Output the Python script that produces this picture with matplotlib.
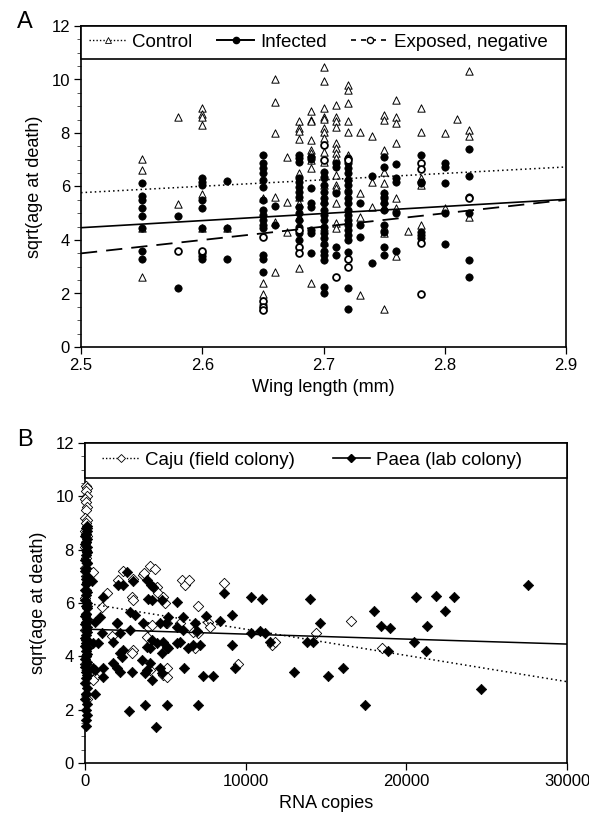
import matplotlib
matplotlib.use("Agg")
import matplotlib.pyplot as plt
from matplotlib.lines import Line2D
from matplotlib.patches import Rectangle
from matplotlib.ticker import MultipleLocator

plt.rcParams['font.family'] = ['Liberation Sans', 'DejaVu Sans']

# ---------------- Panel A data ----------------
control = {
    2.55: [7.04, 6.62, 4.44, 2.61],
    2.58: [8.59, 5.35],
    2.60: [8.95, 8.70, 8.61, 8.29, 5.72, 4.44],
    2.62: [4.44],
    2.65: [5.56, 2.41, 1.97, 1.73, 1.51],
    2.66: [10.02, 9.15, 7.99, 5.62, 4.69, 2.81],
    2.67: [7.12, 5.43, 4.31],
    2.68: [8.45, 8.18, 8.09, 7.78, 6.52, 5.60, 5.37, 4.87, 4.50, 2.94],
    2.69: [8.82, 8.49, 8.43, 7.74, 7.37, 7.24, 6.99, 6.71, 2.41],
    2.70: [10.46, 9.95, 8.95, 8.61, 8.51, 8.18, 8.05, 7.83, 7.30, 6.93, 6.49, 6.06, 5.50, 4.50, 3.94],
    2.71: [9.05, 8.61, 8.43, 8.24, 7.62, 7.43, 7.24, 7.05, 6.43, 6.06, 5.93, 5.37, 4.62, 4.44],
    2.72: [9.80, 9.61, 9.11, 8.43, 8.05, 7.18, 6.37, 5.98, 4.75],
    2.73: [8.05, 5.75, 4.87, 1.95],
    2.74: [7.87, 6.18, 5.25],
    2.75: [8.67, 8.49, 7.37, 6.56, 6.12, 5.75, 5.50, 5.25, 4.50, 4.25, 1.41],
    2.76: [9.23, 8.61, 8.36, 7.62, 5.56, 5.19, 3.40],
    2.77: [4.34],
    2.78: [8.95, 8.05, 6.31, 6.06, 4.56],
    2.80: [8.01, 5.19],
    2.81: [8.51],
    2.82: [10.33, 8.11, 7.87, 4.87],
}
infected = {
    2.55: [6.14, 5.65, 5.50, 5.21, 4.90, 4.44, 3.60, 3.29],
    2.58: [4.90, 2.21],
    2.60: [6.31, 6.18, 6.06, 5.50, 5.19, 4.44, 3.50, 3.40, 3.29],
    2.62: [6.22, 4.44, 3.29],
    2.65: [7.18, 6.87, 6.68, 6.49, 6.24, 5.98, 5.50, 5.12, 4.94, 4.75, 4.56, 4.44, 3.44, 3.29, 2.81],
    2.66: [5.27, 4.56],
    2.68: [7.18, 7.05, 6.93, 6.31, 6.18, 5.98, 5.81, 5.62, 5.25, 5.00, 4.75, 4.50, 4.25, 4.00],
    2.69: [7.12, 7.04, 5.93, 5.37, 5.25, 4.38, 4.25, 3.50],
    2.70: [6.56, 6.31, 6.06, 5.81, 5.56, 5.37, 5.12, 4.94, 4.75, 4.50, 4.25, 4.06, 3.84, 3.60, 3.44, 3.25, 2.26, 2.01],
    2.71: [6.87, 6.74, 5.75, 3.75, 3.44],
    2.72: [7.05, 6.87, 6.68, 6.49, 6.24, 6.06, 5.81, 5.56, 5.37, 5.12, 4.94, 4.75, 4.56, 4.38, 4.19, 4.00, 3.57, 2.20, 1.41],
    2.73: [5.37, 4.56, 4.13],
    2.74: [6.39, 3.15],
    2.75: [7.12, 6.74, 5.75, 5.56, 5.37, 5.12, 4.56, 4.31, 3.75, 3.44],
    2.76: [6.84, 6.31, 6.18, 5.00, 3.60],
    2.78: [7.18, 6.18, 6.12, 4.31, 4.19, 4.06],
    2.80: [6.87, 6.74, 6.14, 5.00, 3.84],
    2.82: [7.40, 6.39, 5.62, 5.00, 3.27, 2.63],
}
exposed = {
    2.58: [3.58],
    2.60: [3.60],
    2.65: [4.13, 1.73, 1.51, 1.38],
    2.68: [4.38, 3.75, 3.50],
    2.70: [7.55, 6.99],
    2.71: [2.63],
    2.72: [7.00, 3.29, 3.00],
    2.78: [6.87, 6.64, 3.90, 1.97],
    2.82: [5.56],
}
# regression lines (value at x=2.5 and x=2.9)
fit_x_A = [2.5, 2.9]
fit_control = [5.77, 6.73]
fit_infected = [4.46, 5.52]
fit_exposed = [3.50, 5.50]
labels_A = ['Control', 'Infected', 'Exposed, negative']

# ---------------- Panel B data ----------------
caju_strip_x = [60, 120, 40, 100, 20, 80, 140, 60, 0, 120, 40, 100, 20, 80, 140, 60, 0, 120,
                40, 100, 20, 80, 140, 60, 0, 120, 40, 100, 20, 80, 140, 60, 0, 120, 40, 100]
caju_strip_y = [10.4, 10.3, 10.2, 10.0, 9.9, 9.8, 9.6, 9.5, 9.2, 9.1, 9.0, 8.8, 8.7, 8.6, 8.5,
                8.3, 8.1, 7.9, 7.7, 7.5, 7.3, 7.0, 6.8, 6.5, 6.2, 5.9, 5.6, 5.3, 5.0, 4.6, 4.3,
                4.0, 3.7, 3.4, 2.6, 2.4]
caju_x = [518, 2343, 2073, 3006, 3587, 3670, 4043, 4354, 4458, 4561, 4872, 4976, 6013, 6220,
          6490, 8647, 14369, 11612, 11819, 7672, 7776, 7050, 1659, 1970, 1348, 1037, 2903,
          3006, 3939, 4147, 5080, 5909, 6739, 7050, 3836, 3006, 2903, 6842, 622, 518, 4872,
          5121, 5080, 9538, 4043, 16585, 18516]
caju_y = [7.17, 7.20, 6.86, 6.89, 7.05, 7.14, 7.39, 7.26, 6.61, 6.36, 6.24, 5.99, 6.86, 6.67,
          6.86, 6.74, 4.86, 4.42, 4.55, 5.30, 5.11, 5.89, 4.76, 5.26, 6.36, 5.86, 6.24,
          6.11, 5.11, 5.17, 5.24, 5.24, 4.92, 4.86, 4.74, 4.24, 4.11, 4.30, 3.24, 3.11, 3.30,
          3.55, 3.24, 3.71, 3.49, 5.34, 4.32]

paea_strip_x = [100, 40, 140, 80, 20, 120, 60, 0, 100, 40, 140, 80, 20, 120, 60, 0, 100, 40,
                140, 80, 20, 120, 60, 0, 100, 40, 140, 80, 20, 120, 60, 0, 100, 40, 140, 80,
                20, 120, 60, 0, 100, 40, 140, 80, 20, 120, 60, 0, 100, 40, 140, 80, 20, 120,
                60, 0, 100, 40, 140, 80, 60]
paea_strip_y = [8.9, 8.8, 8.7, 8.6, 8.5, 8.4, 8.3, 8.2, 8.1, 8.0, 7.9, 7.8, 7.6, 7.5, 7.3, 7.2,
                7.0, 6.9, 6.8, 6.7, 6.5, 6.4, 6.3, 6.1, 6.0, 5.9, 5.8, 5.6, 5.5, 5.4, 5.3, 5.2,
                5.1, 5.0, 4.9, 4.8, 4.7, 4.6, 4.5, 4.4, 4.3, 4.2, 4.1, 4.0, 3.9, 3.8, 3.7, 3.6,
                3.5, 3.4, 3.3, 3.2, 3.0, 2.8, 2.6, 2.4, 2.2, 2.0, 1.8, 1.6, 1.4]
paea_x = [415, 2592, 2073, 2343, 3006, 3836, 4085, 4250, 3939, 4147, 4769, 8667, 10306, 10990,
          13996, 14618, 13789, 14203, 11508, 10886, 11197, 10306, 9124, 9124, 8398, 7527,
          6842, 6117, 5702, 5183, 5038, 1140, 933, 622, 1037, 829, 518, 1762, 2177, 2799,
          1970, 2799, 3110, 3628, 4665, 5702, 6117, 6946, 3836, 4043, 4147, 4458, 4872,
          5080, 5183, 4769, 5702, 5909, 6428, 6739, 7154, 2384, 2177, 2281, 1762, 1970,
          2177, 2903, 3525, 3836, 518, 1140, 1140, 622, 4665, 4769, 4043, 3732, 4147, 6158,
          7361, 7942, 9331, 13001, 15136, 622, 2758, 3732, 5121, 7008, 4416,
          16070, 17458, 17977, 18433, 18972, 18869, 20466, 20632, 21316, 21254, 21855,
          22415, 22975, 24633, 27598]
paea_y = [6.84, 7.17, 6.67, 6.67, 6.82, 6.86, 6.67, 6.61, 6.14, 6.11, 6.11, 6.36, 6.21, 6.14,
          6.14, 5.24, 4.55, 4.55, 4.55, 4.96, 4.86, 4.86, 5.55, 4.42, 5.33, 5.51,
          5.24, 5.49, 6.05, 5.49, 5.24, 6.24, 5.49, 5.30, 4.89, 4.49, 4.49, 4.55, 4.86, 4.99,
          5.24, 5.67, 5.55, 5.24, 5.24, 5.11, 4.99, 4.96, 4.36, 4.30, 4.61, 4.49, 4.55,
          4.36, 4.30, 4.11, 4.49, 4.55, 4.30, 4.42, 4.42, 4.24, 4.11, 3.99, 3.74, 3.55,
          3.42, 3.42, 3.86, 3.49, 3.55, 3.55, 3.24, 3.49, 3.55, 3.36, 3.74, 3.36, 3.11, 3.55,
          3.26, 3.26, 3.55, 3.42, 3.26, 2.59, 1.96, 2.17, 2.17, 2.17, 1.36,
          3.55, 2.17, 5.70, 5.15, 5.05, 4.20, 4.55, 6.21, 5.15, 4.20, 6.28,
          5.70, 6.21, 2.77, 6.66]
fit_x_B = [0, 30000]
fit_caju = [6.00, 3.05]
fit_paea = [5.02, 4.46]
labels_B = ['Caju (field colony)', 'Paea (lab colony)']


def flatten(d):
    xs, ys = [], []
    for k, vals in d.items():
        xs += [k] * len(vals)
        ys += vals
    return xs, ys


W, H = 589, 822
fig = plt.figure(figsize=(W / 100, H / 100), dpi=100)

axA = fig.add_axes([81 / W, 1 - 347 / H, 485 / W, 321 / H])
axB = fig.add_axes([85 / W, 1 - 763 / H, 482 / W, 320 / H])

TICK_FS = 12
LAB_FS = 13
LEG_FS = 13.5

for ax in (axA, axB):
    ax.set_ylim(0, 12)
    ax.yaxis.set_major_locator(MultipleLocator(2))
    ax.yaxis.set_minor_locator(MultipleLocator(0.5))
    ax.tick_params(axis='both', which='major', direction='out', length=5, width=0.9,
                   labelsize=TICK_FS, top=False, right=False, pad=3)
    ax.tick_params(axis='y', which='minor', direction='out', length=3, width=0.7,
                   color='#555555')
    ax.tick_params(axis='x', which='minor', bottom=False)
    for s in ax.spines.values():
        s.set_linewidth(1.2)
    ax.set_ylabel('sqrt(age at death)', fontsize=LAB_FS, labelpad=6)


def legend_box(ax, ybottom, handles, labels, x0, colsp):
    rect = Rectangle((0, ybottom / 12), 1, 1 - ybottom / 12, transform=ax.transAxes,
                     facecolor='white', edgecolor='black', lw=1.2, zorder=9, clip_on=False)
    ax.add_patch(rect)
    leg = ax.legend(handles, labels, loc='center left',
                    bbox_to_anchor=(x0, (ybottom / 12 + 1) / 2), ncol=len(labels),
                    borderaxespad=0, borderpad=0, fontsize=LEG_FS, frameon=False,
                    handlelength=2.0, handletextpad=0.3, columnspacing=colsp)
    leg.set_zorder(10)
    return leg


# ---- Panel A ----
cx, cy = flatten(control)
ix, iy = flatten(infected)
ex, ey = flatten(exposed)
axA.scatter(cx, cy, marker='^', s=28, facecolors='white', edgecolors='black',
            linewidths=0.7, zorder=3)
axA.scatter(ix, iy, marker='o', s=28, facecolors='black', edgecolors='black',
            linewidths=0.5, zorder=4)
axA.scatter(ex, ey, marker='o', s=24, facecolors='white', edgecolors='black',
            linewidths=1.3, zorder=5)
axA.plot(fit_x_A, fit_control, color='black', lw=1.1, ls=(0, (1, 2)), zorder=6)
axA.plot(fit_x_A, fit_infected, color='black', lw=1.2, ls='-', zorder=6)
axA.plot(fit_x_A, fit_exposed, color='black', lw=1.3, ls=(0, (9, 5)), zorder=6)
axA.set_xlim(2.5, 2.9)
axA.set_xticks([2.5, 2.6, 2.7, 2.8, 2.9])
axA.set_xticklabels(['2.5', '2.6', '2.7', '2.8', '2.9'])
axA.set_xlabel('Wing length (mm)', fontsize=LAB_FS, labelpad=4)

hA = [Line2D([], [], color='black', lw=1.0, ls=(0, (1, 1.5)), marker='^', ms=4.5,
             mfc='white', mec='black', mew=0.6),
      Line2D([], [], color='black', lw=1.4, ls='-', marker='o', ms=4.5, mfc='black', mec='black'),
      Line2D([], [], color='black', lw=1.2, ls=(0, (3, 3)), marker='o', ms=4.5,
             mfc='white', mec='black', mew=1.0)]
legend_box(axA, 10.77, hA, labels_A, 8 / 485, 1.3)

# ---- Panel B ----
axB.scatter(caju_strip_x + caju_x, caju_strip_y + caju_y, marker='D', s=28,
            facecolors='white', edgecolors='black', linewidths=0.6, zorder=3, clip_on=False)
axB.scatter(paea_strip_x + paea_x, paea_strip_y + paea_y, marker='D', s=28,
            facecolors='black', edgecolors='black', linewidths=0.5, zorder=4, clip_on=False)
axB.plot(fit_x_B, fit_caju, color='black', lw=1.1, ls=(0, (1, 2)), zorder=6)
axB.plot(fit_x_B, fit_paea, color='black', lw=1.1, ls='-', zorder=6)
axB.set_xlim(0, 30000)
axB.set_xticks([0, 10000, 20000, 30000])
axB.set_xticklabels(['0', '10000', '20000', '30000'])
axB.set_xlabel('RNA copies', fontsize=LAB_FS, labelpad=4)

hB = [Line2D([], [], color='black', lw=1.0, ls=(0, (1, 1.5)), marker='D', ms=4.5,
             mfc='white', mec='black', mew=0.6),
      Line2D([], [], color='black', lw=1.2, ls='-', marker='D', ms=4.5, mfc='black', mec='black')]
legend_box(axB, 10.69, hB, labels_B, 17 / 482, 2.0)

fig.text(25 / W, 1 - 22 / H, 'A', fontsize=17, ha='center', va='center')
fig.text(25 / W, 1 - 440 / H, 'B', fontsize=17, ha='center', va='center')

fig.savefig('out.png', dpi=100)
